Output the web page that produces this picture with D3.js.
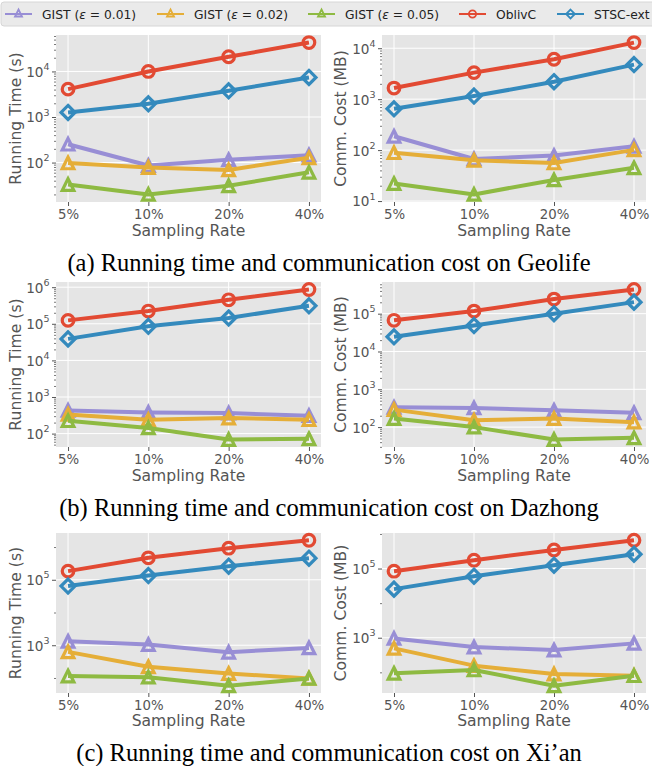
<!DOCTYPE html>
<html><head><meta charset="utf-8">
<script src="https://cdn.jsdelivr.net/npm/d3@7"></script>
<style>body{margin:0;background:#fff}svg{display:block}</style>
</head><body>
<svg id="chart" width="652" height="766"></svg>
<script>
// ---------- data ----------
const categories = ["5%", "10%", "20%", "40%"];
const seriesBase = ["GIST", "GIST", "GIST", "OblivC", "STSC-ext"];
const seriesEps = ["0.01", "0.02", "0.05", null, null];
const seriesColors = ["#988ED5", "#E5AE38", "#8EBA42", "#E24A33", "#348ABD"];
const seriesMarkers = ["triangle", "triangle", "triangle", "circle", "diamond"];

// order of rows in each array: GIST(0.01), GIST(0.02), GIST(0.05), OblivC, STSC-ext
const geolifeTime = [[253, 86, 115, 145], [98, 78, 69, 127], [33, 20, 31, 61], [4090, 10000, 21000, 43000], [1260, 1950, 3760, 7380]];
const geolifeComm = [[187, 67, 78, 119], [89, 63, 56, 101], [22, 13.5, 26, 45], [1650, 3320, 6070, 12900], [648, 1150, 2200, 4770]];
const dazhongTime = [[430, 379, 364, 308], [335, 240, 266, 240], [225, 143, 69, 72], [124000, 223000, 453000, 865000], [38700, 85500, 144000, 311000]];
const dazhongComm = [[334, 321, 279, 238], [290, 152, 169, 135], [169, 100, 47, 52], [66800, 117000, 243000, 436000], [24400, 48400, 100000, 202000]];
const xianTime = [[1320, 1050, 612, 830], [627, 219, 137, 97], [114, 106, 58, 97], [184000, 468000, 921000, 1610000], [64100, 135000, 261000, 457000]];
const xianComm = [[957, 538, 441, 687], [492, 156, 89.5, 80], [94, 117, 41, 80], [83800, 174000, 345000, 656000], [25400, 60100, 125000, 259000]];

// major y tick exponents (tick labels 10^k)
const geolifeTimeTicks = [2, 3, 4];
const geolifeCommTicks = [1, 2, 3, 4];
const dazhongTimeTicks = [2, 3, 4, 5, 6];
const dazhongCommTicks = [2, 3, 4, 5];
const xianTimeTicks = [3, 5];
const xianCommTicks = [3, 5];

const yLabels = ["Running Time (s)", "Comm. Cost (MB)"];
const xLabel = "Sampling Rate";
const captions = [
  "(a) Running time and communication cost on Geolife",
  "(b) Running time and communication cost on Dazhong",
  "(c) Running time and communication cost on Xi\u2019an"
];

// ---------- layout ----------
const svg = d3.select("#chart");
const GRAY = "#555555";
const BG = "#E5E5E5";

const cols = [{x0: 56, x1: 321, labelX: 15}, {x0: 382, x1: 646, labelX: 340}];
const rows = [
  {y0: 35, y1: 202, tickPad: 4.0, xlabOff: 33.5, capY: 271},
  {y0: 282, y1: 447, tickPad: 4.0, xlabOff: 33.5, capY: 516},
  {y0: 533, y1: 693, tickPad: 3.2, xlabOff: 33, capY: 761}
];
const panels = [
  {data: geolifeTime, ticks: geolifeTimeTicks, r: 0, c: 0},
  {data: geolifeComm, ticks: geolifeCommTicks, r: 0, c: 1},
  {data: dazhongTime, ticks: dazhongTimeTicks, r: 1, c: 0},
  {data: dazhongComm, ticks: dazhongCommTicks, r: 1, c: 1},
  {data: xianTime, ticks: xianTimeTicks, r: 2, c: 0},
  {data: xianComm, ticks: xianCommTicks, r: 2, c: 1}
];

function markerPath(type, s) {
  if (type === "circle") {
    return `M${s},0A${s},${s} 0 1,1 ${-s},0A${s},${s} 0 1,1 ${s},0Z`;
  } else if (type === "diamond") {
    return `M0,${-s}L${s},0L0,${s}L${-s},0Z`;
  } else {
    return `M0,${-s}L${s},${s}L${-s},${s}Z`;
  }
}
const plotMarkerSize = {circle: 5.8, diamond: 7.0, triangle: 5.8};
const legendMarkerSize = {circle: 3.6, diamond: 4.4, triangle: 3.5};

panels.forEach(p => {
  const col = cols[p.c], row = rows[p.r];
  const all = p.data.flat().map(v => Math.log10(v));
  const lmin = d3.min(all), lmax = d3.max(all);
  const m = (lmax - lmin) * 0.05;
  const y = d3.scaleLog().domain([Math.pow(10, lmin - m), Math.pow(10, lmax + m)]).range([row.y1, row.y0]);
  const x = d3.scaleLinear().domain([-0.15, 3.15]).range([col.x0, col.x1]);
  const g = svg.append("g");

  g.append("rect").attr("x", col.x0).attr("y", row.y0)
    .attr("width", col.x1 - col.x0).attr("height", row.y1 - row.y0).attr("fill", BG);

  const majors = p.ticks.map(k => Math.pow(10, k));
  // minor ticks
  let minors = [];
  const step = p.ticks.length > 1 ? p.ticks[1] - p.ticks[0] : 1;
  for (let k = Math.floor(lmin - m); k <= Math.ceil(lmax + m); k++) {
    if (step === 1) {
      for (let j = 2; j <= 9; j++) minors.push(j * Math.pow(10, k));
    } else if (!p.ticks.includes(k)) {
      minors.push(Math.pow(10, k));
    }
  }
  const [dlo, dhi] = y.domain();
  minors = minors.filter(v => v >= dlo && v <= dhi);

  // grid
  g.selectAll(".hg").data(majors).enter().append("line")
    .attr("x1", col.x0).attr("x2", col.x1)
    .attr("y1", d => y(d)).attr("y2", d => y(d))
    .attr("stroke", "#fff").attr("stroke-width", 1);
  g.selectAll(".vg").data(d3.range(categories.length)).enter().append("line")
    .attr("x1", d => x(d)).attr("x2", d => x(d))
    .attr("y1", row.y0).attr("y2", row.y1)
    .attr("stroke", "#fff").attr("stroke-width", 1);

  // y axis (major)
  const ya = g.append("g").attr("transform", `translate(${col.x0},0)`)
    .call(d3.axisLeft(y).tickValues(majors).tickSize(4).tickPadding(3).tickFormat(() => ""));
  ya.select(".domain").remove();
  ya.selectAll(".tick line").attr("stroke", GRAY);
  ya.selectAll(".tick text").each(function(d) {
    const t = d3.select(this);
    t.text(null).attr("fill", GRAY).attr("font-family", "DejaVu Sans").attr("font-size", "13.6px")
      .attr("x", -6.5).attr("dy", "0.36em");
    t.append("tspan").text("10");
    t.append("tspan").attr("dy", "-6.8").attr("font-size", "9.5px").text(Math.round(Math.log10(d)));
  });
  // y axis (minor)
  const ym = g.append("g").attr("transform", `translate(${col.x0},0)`)
    .call(d3.axisLeft(y).tickValues(minors).tickSize(2).tickFormat(() => ""));
  ym.select(".domain").remove();
  ym.selectAll(".tick line").attr("stroke", GRAY).attr("stroke-width", 0.8);
  ym.selectAll(".tick text").remove();

  // x axis
  const xa = g.append("g").attr("transform", `translate(0,${row.y1})`)
    .call(d3.axisBottom(x).tickValues(d3.range(categories.length)).tickSize(4).tickPadding(row.tickPad)
      .tickFormat(i => categories[i]));
  xa.select(".domain").remove();
  xa.selectAll(".tick line").attr("stroke", GRAY);
  xa.selectAll(".tick text").attr("fill", GRAY).attr("font-family", "DejaVu Sans").attr("font-size", "13.3px");

  // axis labels
  g.append("text").attr("x", (col.x0 + col.x1) / 2).attr("y", row.y1 + row.xlabOff)
    .attr("text-anchor", "middle").attr("fill", GRAY)
    .attr("font-family", "DejaVu Sans").attr("font-size", "15.6px").text(xLabel);
  g.append("text")
    .attr("transform", `translate(${col.labelX},${(row.y0 + row.y1) / 2}) rotate(-90)`)
    .attr("text-anchor", "middle").attr("dy", "0.36em").attr("fill", GRAY)
    .attr("font-family", "DejaVu Sans").attr("font-size", "15.6px").text(yLabels[p.c]);

  // series
  const line = d3.line().x((d, i) => x(i)).y(d => y(d));
  p.data.forEach((vals, si) => {
    const sg = g.append("g");
    sg.append("path").attr("d", line(vals)).attr("fill", "none")
      .attr("stroke", seriesColors[si]).attr("stroke-width", 4).attr("stroke-linejoin", "round");
    sg.selectAll("path.mk").data(vals).enter().append("path").attr("class", "mk")
      .attr("transform", (d, i) => `translate(${x(i)},${y(d)})`)
      .attr("d", markerPath(seriesMarkers[si], plotMarkerSize[seriesMarkers[si]]))
      .attr("fill", "none").attr("stroke", seriesColors[si]).attr("stroke-width", 3.2);
  });

  // caption
  if (p.c === 0) {
    svg.append("text").attr("x", 329).attr("y", row.capY).attr("text-anchor", "middle")
      .attr("fill", "#000").attr("font-family", "Liberation Serif").attr("font-size", "24.5px")
      .text(captions[p.r]);
  }
});

// ---------- legend ----------
const lg = svg.append("g");
lg.append("rect").attr("x", 1).attr("y", 2).attr("width", 662).attr("height", 24).attr("rx", 3)
  .attr("fill", "#EAEAEA").attr("stroke", "#D6D6D6").attr("stroke-width", 1);
const legendX = [5, 157, 308, 459, 557];
seriesBase.forEach((name, si) => {
  const lx = legendX[si], ly = 14;
  lg.append("line").attr("x1", lx).attr("x2", lx + 27).attr("y1", ly).attr("y2", ly)
    .attr("stroke", seriesColors[si]).attr("stroke-width", 2);
  lg.append("path").attr("transform", `translate(${lx + 13.5},${ly - (seriesMarkers[si] === "triangle" ? 1 : 0)})`)
    .attr("d", markerPath(seriesMarkers[si], legendMarkerSize[seriesMarkers[si]]))
    .attr("fill", "none").attr("stroke", seriesColors[si]).attr("stroke-width", 1.8);
  const t = lg.append("text").attr("x", lx + 37).attr("y", 18.5).attr("fill", "#222")
    .attr("font-family", "DejaVu Sans").attr("font-size", "12.3px");
  if (seriesEps[si]) {
    t.append("tspan").text(name + " (");
    t.append("tspan").attr("font-style", "italic").text("\u03B5");
    t.append("tspan").text(" = " + seriesEps[si] + ")");
  } else {
    t.text(name);
  }
});
</script>
</body></html>
